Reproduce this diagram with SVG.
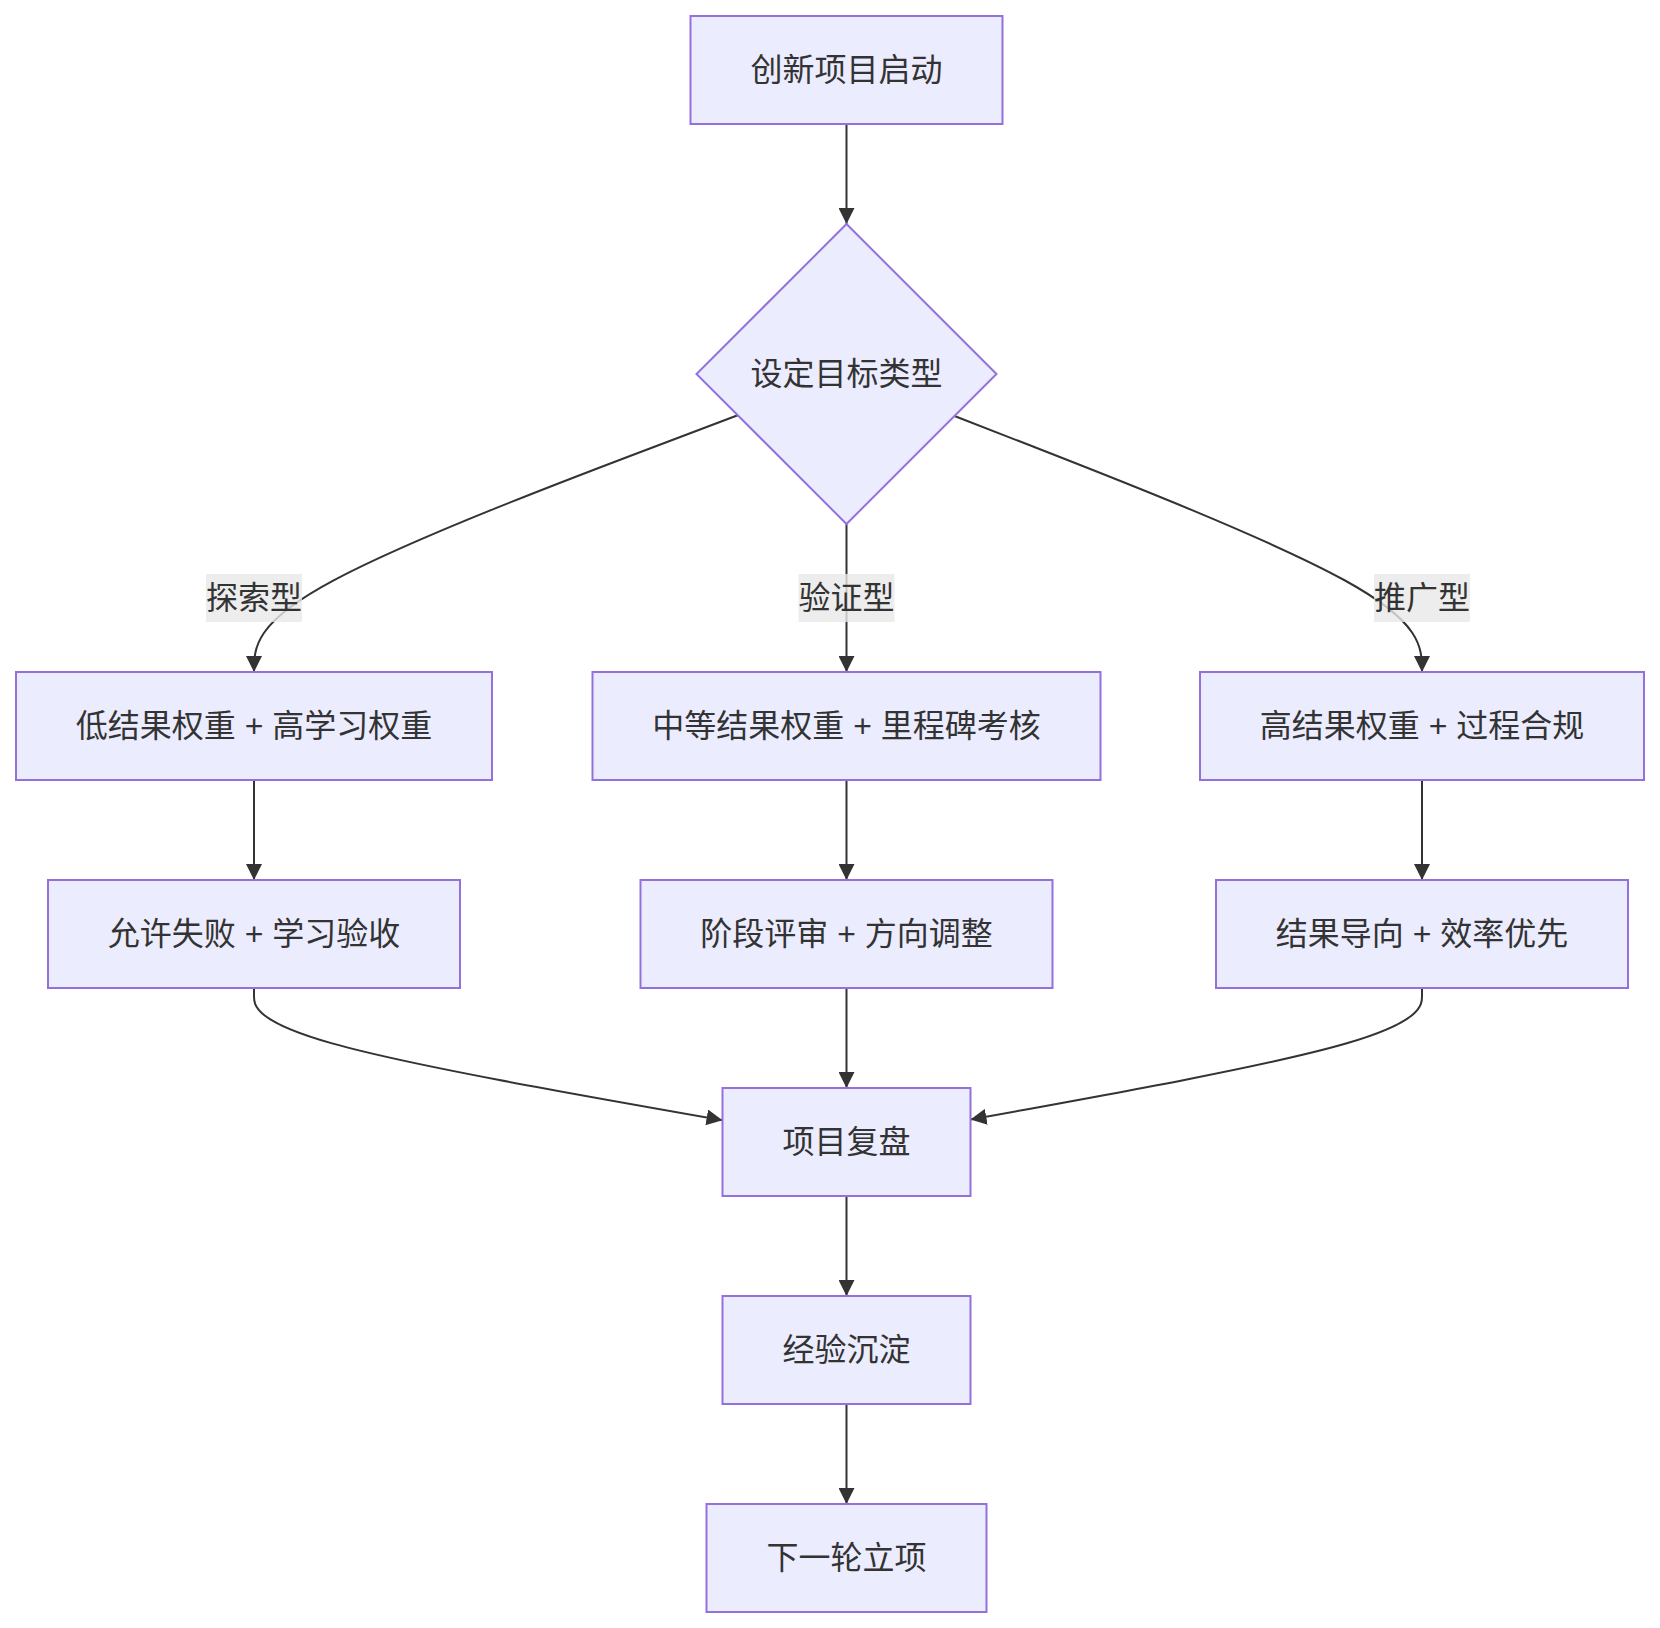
<svg xmlns="http://www.w3.org/2000/svg" width="1660" height="1628" viewBox="0 0 1660 1628">
<style>
.node rect, .node polygon { fill: #ECECFF; stroke: #9370DB; stroke-width: 2; }
.lbl { font-family: "Liberation Sans", "Noto Sans CJK SC", sans-serif; font-size: 32px; fill: #333333; text-anchor: middle; }
.edge { fill: none; stroke: #333333; stroke-width: 2; }
.elbg { fill: #e8e8e8; fill-opacity: 0.8; }
</style>
<defs>
<marker id="arrow" viewBox="0 0 10 10" refX="10" refY="5" markerUnits="userSpaceOnUse" markerWidth="16" markerHeight="16" orient="auto">
<path d="M0,0 L10,5 L0,10 z" fill="#333333"/>
</marker>
</defs>
<rect width="1660" height="1628" fill="#ffffff"/>
<g id="connectors">
<path class="edge" marker-end="url(#arrow)" d="M846.5,124 L846.5,224"/>
<path class="edge" marker-end="url(#arrow)" d="M737.7,415.2 L657.1,445.7 C576.5,476.1 415.2,537.1 334.6,579.9 C254,622.7 254,647.3 254,672"/>
<path class="edge" marker-end="url(#arrow)" d="M846.5,524 L846.5,672"/>
<path class="edge" marker-end="url(#arrow)" d="M954.5,416 L1032.4,446.3 C1110.3,476.7 1266.2,537.3 1344.1,580 C1422,622.7 1422,647.3 1422,672"/>
<path class="edge" marker-end="url(#arrow)" d="M254,780 L254,880"/>
<path class="edge" marker-end="url(#arrow)" d="M846.5,780 L846.5,880"/>
<path class="edge" marker-end="url(#arrow)" d="M1422,780 L1422,880"/>
<path class="edge" marker-end="url(#arrow)" d="M254,988 L254,996.3 C254,1004.7 254,1021.3 332.1,1043.4 C410.2,1065.4 566.3,1092.8 722.5,1120.2"/>
<path class="edge" marker-end="url(#arrow)" d="M846.5,988 L846.5,1088"/>
<path class="edge" marker-end="url(#arrow)" d="M1422,988 L1422,996.3 C1422,1004.7 1422,1021.3 1346.8,1043.3 C1271.5,1065.2 1121,1092.4 970.5,1119.6"/>
<path class="edge" marker-end="url(#arrow)" d="M846.5,1196 L846.5,1296"/>
<path class="edge" marker-end="url(#arrow)" d="M846.5,1404 L846.5,1504"/>
</g>
<g id="edge-labels">
<g id="label-explore"><rect class="elbg" x="206" y="574" width="96" height="48"/><text class="lbl" x="254" y="609">探索型</text></g>
<g id="label-verify"><rect class="elbg" x="798.5" y="574" width="96" height="48"/><text class="lbl" x="846.5" y="609">验证型</text></g>
<g id="label-promote"><rect class="elbg" x="1374" y="574" width="96" height="48"/><text class="lbl" x="1422" y="609">推广型</text></g>
</g>
<g id="n-start" class="node"><rect x="690.5" y="16" width="312" height="108"/><text class="lbl" x="846.5" y="81">创新项目启动</text></g>
<g id="n-decide" class="node"><polygon points="846.5,224 996.5,374 846.5,524 696.5,374"/><text class="lbl" x="846.5" y="385">设定目标类型</text></g>
<g id="n-explore" class="node"><rect x="16" y="672" width="476" height="108"/><text class="lbl" x="254" y="737">低结果权重 + 高学习权重</text></g>
<g id="n-verify" class="node"><rect x="592.5" y="672" width="508" height="108"/><text class="lbl" x="846.5" y="737">中等结果权重 + 里程碑考核</text></g>
<g id="n-promote" class="node"><rect x="1200" y="672" width="444" height="108"/><text class="lbl" x="1422" y="737">高结果权重 + 过程合规</text></g>
<g id="n-fail" class="node"><rect x="48" y="880" width="412" height="108"/><text class="lbl" x="254" y="945">允许失败 + 学习验收</text></g>
<g id="n-review" class="node"><rect x="640.5" y="880" width="412" height="108"/><text class="lbl" x="846.5" y="945">阶段评审 + 方向调整</text></g>
<g id="n-result" class="node"><rect x="1216" y="880" width="412" height="108"/><text class="lbl" x="1422" y="945">结果导向 + 效率优先</text></g>
<g id="n-retro" class="node"><rect x="722.5" y="1088" width="248" height="108"/><text class="lbl" x="846.5" y="1153">项目复盘</text></g>
<g id="n-lessons" class="node"><rect x="722.5" y="1296" width="248" height="108"/><text class="lbl" x="846.5" y="1361">经验沉淀</text></g>
<g id="n-next" class="node"><rect x="706.5" y="1504" width="280" height="108"/><text class="lbl" x="846.5" y="1569">下一轮立项</text></g>
</svg>
